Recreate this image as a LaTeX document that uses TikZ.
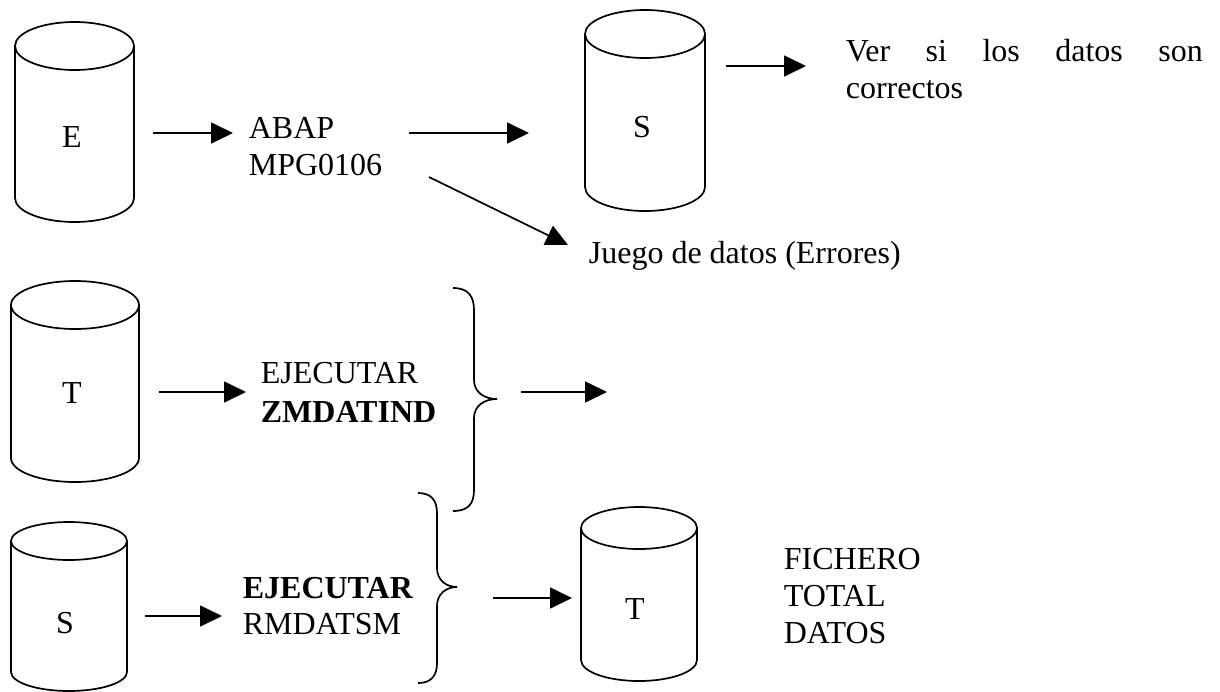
\documentclass[tikz,border=0pt]{standalone}
\usepackage{fontspec}
\setmainfont{Liberation Serif}
\usetikzlibrary{arrows.meta}
\begin{document}
\begin{tikzpicture}[x=1pt,y=1pt,line width=1.7pt,
  conn/.style={-{Triangle[length=22pt,width=21pt]}},
  lbl/.style={inner sep=0pt,anchor=base west,font=\fontsize{32}{37}\selectfont},
  mid/.style={inner sep=0pt,font=\fontsize{32}{37}\selectfont},
  brace/.style={line width=1.7pt}]
\useasboundingbox (0,0) rectangle (1220,-691);
% cylinder macro: x1,x2,ytop,ybot,ry
\newcommand{\mycyl}[5]{%
  \pgfmathsetmacro{\rx}{(#2-#1)/2}%
  \pgfmathsetmacro{\cx}{(#1+#2)/2}%
  \draw (#1,-#3) -- (#1,-#4) arc[start angle=180,end angle=360,x radius=\rx,y radius=#5] -- (#2,-#3);
  \draw (\cx,-#3) ellipse[x radius=\rx,y radius=#5];}
% cylinders
\mycyl{15}{134}{46}{198}{24}
\mycyl{585}{705}{34}{187}{24}
\mycyl{11}{139}{305}{458}{24}
\mycyl{11}{127}{541}{672}{19}
\mycyl{581}{697}{528}{660}{21}
% cylinder labels
\node[mid] (cE) at (72,-137) {E};
\node[mid] (cS1) at (642,-127) {S};
\node[mid] (cT1) at (72,-393) {T};
\node[mid] (cS2) at (65,-623) {S};
\node[mid] (cT2) at (635,-609) {T};
% texts
\node[lbl] (abap1) at (248,-138) {ABAP};
\node[lbl] (abap2) at (248,-175) {MPG0106};
\node[lbl] (ver1) at (845,-61) {\makebox[357pt][s]{Ver si los datos son}};
\node[lbl] (ver2) at (845,-98) {correctos};
\node[lbl] (juego) at (588,-263) {Juego de datos (Errores)};
\node[lbl] (ej1) at (260,-383) {EJECUTAR};
\node[lbl] (zm) at (260,-422) {\bfseries ZMDATIND};
\node[lbl] (ej2) at (242,-598) {\bfseries EJECUTAR};
\node[lbl] (rm) at (242,-634) {RMDATSM};
\node[lbl] (fi1) at (783,-569) {FICHERO};
\node[lbl] (fi2) at (783,-606) {TOTAL};
\node[lbl] (fi3) at (783,-643) {DATOS};
% arrow end points
\coordinate (a1s) at (153,-133); \coordinate (a1e) at (233,-133);
\coordinate (a2s) at (409,-133); \coordinate (a2e) at (529,-133);
\coordinate (a3s) at (429,-177); \coordinate (a3e) at (568,-245);
\coordinate (a4s) at (726,-66);  \coordinate (a4e) at (806,-66);
\coordinate (a5s) at (159,-392); \coordinate (a5e) at (246,-392);
\coordinate (a6s) at (521,-392); \coordinate (a6e) at (607,-392);
\coordinate (a7s) at (145,-616); \coordinate (a7e) at (222,-616);
\coordinate (a8s) at (493,-598); \coordinate (a8e) at (572,-598);
\foreach \s/\e in {a1s/a1e,a2s/a2e,a3s/a3e,a4s/a4e,a5s/a5e,a6s/a6e,a7s/a7e,a8s/a8e}
  \draw[conn] (\s) -- (\e);
% braces
\draw[brace] (453,-288) .. controls (468,-288) and (474,-296) .. (474,-310) -- (474,-380)
  .. controls (474,-392) and (484,-399) .. (497,-399)
  .. controls (484,-399) and (474,-406) .. (474,-418) -- (474,-490)
  .. controls (474,-504) and (468,-511) .. (453,-511);
\draw[brace] (418,-493) .. controls (431,-493) and (437,-500) .. (437,-513) -- (437,-568)
  .. controls (437,-580) and (446,-587) .. (457,-587)
  .. controls (446,-587) and (437,-594) .. (437,-606) -- (437,-663)
  .. controls (437,-676) and (431,-683) .. (418,-683);
\end{tikzpicture}
\end{document}
